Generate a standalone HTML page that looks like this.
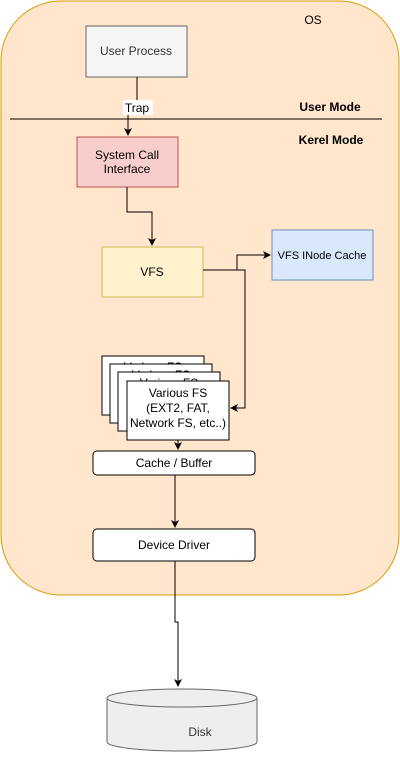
<!DOCTYPE html>
<html><head><style>
body{margin:0;background:#fff;}
svg{display:block;font-family:"Liberation Sans",Arial,sans-serif;}
</style></head><body>
<svg width="400" height="757" viewBox="0 0 400 757">
<defs><marker id="a" markerWidth="8" markerHeight="8" refX="7" refY="4" orient="auto" markerUnits="userSpaceOnUse"><path d="M0,0 L8,4 L0,8 L2,4Z" fill="#000"/></marker></defs>
<rect x="1" y="1" width="398" height="594" rx="60" fill="#ffe6cc" stroke="#d79b00" stroke-width="1"/>
<text x="313" y="24" font-size="12" text-anchor="middle">OS</text>
<text x="330" y="111" font-size="12" font-weight="bold" text-anchor="middle">User Mode</text>
<text x="331" y="144" font-size="12" font-weight="bold" text-anchor="middle">Kerel Mode</text>
<line x1="10" y1="119" x2="382" y2="119" stroke="#000"/>
<rect x="86" y="26" width="101" height="51" fill="#f5f5f5" stroke="#666"/>
<text x="136" y="55" font-size="12" fill="#333" text-anchor="middle">User Process</text>
<path d="M137,77 V112 H128 V135" fill="none" stroke="#000" marker-end="url(#a)"/>
<rect x="123" y="100" width="30" height="15" fill="#fff"/>
<text x="137" y="112" font-size="12" text-anchor="middle">Trap</text>
<rect x="77" y="137" width="101" height="50" fill="#f8cecc" stroke="#b85450"/>
<text x="127" y="159" font-size="12" text-anchor="middle">System Call</text>
<text x="127" y="173" font-size="12" text-anchor="middle">Interface</text>
<path d="M127,187 V212 H152 V245" fill="none" stroke="#000" marker-end="url(#a)"/>
<rect x="102" y="247" width="101" height="50" fill="#fff2cc" stroke="#d6b656"/>
<text x="152" y="276" font-size="12" text-anchor="middle">VFS</text>
<rect x="272" y="230" width="101" height="50" fill="#dae8fc" stroke="#6c8ebf"/>
<text x="322" y="259" font-size="11" text-anchor="middle">VFS INode Cache</text>
<path d="M203,270 H237 V255 H270" fill="none" stroke="#000" marker-end="url(#a)"/>
<path d="M237,270 H245 V408 H231" fill="none" stroke="#000" marker-end="url(#a)"/>
<rect x="102" y="356" width="102" height="59" fill="#fff" stroke="#000"/>
<text x="153" y="371" font-size="12" text-anchor="middle">Various FS</text>
<rect x="110" y="364" width="102" height="59" fill="#fff" stroke="#000"/>
<text x="161" y="379" font-size="12" text-anchor="middle">Various FS</text>
<rect x="118" y="372" width="102" height="59" fill="#fff" stroke="#000"/>
<text x="169" y="387" font-size="12" text-anchor="middle">Various FS</text>
<rect x="127" y="381" width="102" height="59" fill="#fff" stroke="#000"/>
<text x="178" y="397" font-size="12" text-anchor="middle">Various FS</text>
<text x="178" y="412" font-size="12" text-anchor="middle">(EXT2,  FAT,</text>
<text x="178" y="427" font-size="12" text-anchor="middle">Network FS,  etc..)</text>
<path d="M178,440 V449" fill="none" stroke="#000" marker-end="url(#a)"/>
<rect x="93" y="451" width="162" height="24" rx="4" fill="#fff" stroke="#000"/>
<text x="174" y="467" font-size="12" text-anchor="middle">Cache / Buffer</text>
<path d="M175,475 V527" fill="none" stroke="#000" marker-end="url(#a)"/>
<rect x="93" y="529" width="162" height="32" rx="4" fill="#fff" stroke="#000"/>
<text x="174" y="549" font-size="12" text-anchor="middle">Device Driver</text>
<path d="M175,561 V622 H178 V686" fill="none" stroke="#000" marker-end="url(#a)"/>
<path d="M107,698 V742 A75,9 0 0 0 257,742 V698 A75,9 0 0 0 107,698 Z" fill="#eee" stroke="#666"/>
<path d="M107,698 A75,9 0 0 0 257,698" fill="none" stroke="#666"/>
<text x="200" y="736" font-size="12" fill="#333" text-anchor="middle">Disk</text>
</svg>
</body></html>
